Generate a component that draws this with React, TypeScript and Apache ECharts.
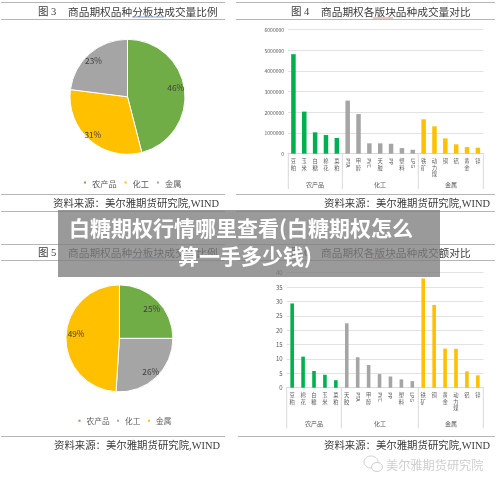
import React, { useEffect, useRef } from "react";
import * as echarts from "echarts";

const GREEN = "#00B050";
const GRAY = "#A5A5A5";
const YELLOW = "#FFC000";
const PIE_GREEN = "#70AD47";
const CN = '"Liberation Serif","Noto Sans CJK SC",serif';
const SANS = '"Noto Sans CJK SC",sans-serif';

const groupNames = ["农产品", "化工", "金属"];

const volCatsAgri = ["豆粕", "玉米", "白糖", "棉花", "菜粕"];
const volCatsChem = ["PTA", "甲醇", "PVC", "天胶", "PP", "塑料", "LPG"];
const volCatsMetal = ["铁矿", "动力煤", "铜", "铝", "黄金", "锌"];
const volAgri = [4800000, 2030000, 1030000, 900000, 760000];
const volChem = [2560000, 1910000, 500000, 500000, 480000, 270000, 190000];
const volMetal = [1660000, 1320000, 740000, 450000, 320000, 290000];

const amtCatsAgri = ["豆粕", "棉花", "白糖", "玉米", "菜粕"];
const amtCatsChem = ["天胶", "PTA", "甲醇", "PVC", "PP", "塑料", "LPG"];
const amtCatsMetal = ["铁矿", "铜", "黄金", "动力煤", "铝", "锌"];
const amtAgri = [29.3, 10.8, 5.8, 4.5, 2.6];
const amtChem = [22.4, 10.6, 7.9, 4.75, 3.9, 2.9, 2.3];
const amtMetal = [38, 28.8, 13.6, 13.5, 5.7, 4.3];

const pieVolume = [46, 31, 23];
const pieAmount = [25, 26, 49];

const isLatin = (s: string) => /^[A-Z]+$/.test(s);
const stacked = (s: string) => (isLatin(s) ? "" : s.split("").join("\n"));
const latinOnly = (s: string) => (isLatin(s) ? s : "");

function barData(a: number[], b: number[], c: number[]) {
  return [
    ...a.map((value) => ({ value, itemStyle: { color: GREEN } })),
    ...b.map((value) => ({ value, itemStyle: { color: GRAY } })),
    ...c.map((value) => ({ value, itemStyle: { color: YELLOW } })),
  ];
}

function txt(text: string, x: number, y: number, size: number, fill: string, align = "left", family = SANS, weight: any = "normal", z = 10) {
  return {
    type: "text",
    x,
    y,
    z,
    style: { text, fill, fontSize: size, fontFamily: family, fontWeight: weight, align, verticalAlign: "middle", textAlign: align, textVerticalAlign: "middle" },
  };
}
function ln(x1: number, y1: number, x2: number, y2: number, stroke: string, lineWidth = 1, z = 10) {
  return { type: "line", z, shape: { x1, y1, x2, y2 }, style: { stroke, lineWidth } };
}

const RULE = "#B5B5B5";
const AXIS = "#D9D9D9";
const TITLE = "#3a3a3a";

function buildOption() {
  const g1 = { left: 288, width: 195.3, top: 29.3, height: 124.4 };
  const g2 = { left: 286.7, width: 196.6, top: 272.7, height: 115 };
  const cats1 = [...volCatsAgri, ...volCatsChem, ...volCatsMetal];
  const cats2 = [...amtCatsAgri, ...amtCatsChem, ...amtCatsMetal];

  const xBase = (gridIndex: number, data: string[], rotate: number) => ({
    type: "category",
    gridIndex,
    position: "bottom",
    data,
    axisTick: { show: false },
    axisLine: { show: true, lineStyle: { color: AXIS, width: 1 } },
    splitLine: { show: false },
    axisLabel: { interval: 0, rotate, fontSize: 5.3, lineHeight: 6.5, color: "#595959", fontFamily: SANS, margin: 4.5, hideOverlap: false },
  });
  const yBase = (gridIndex: number, max: number, interval: number, fontSize: number) => ({
    type: "value",
    gridIndex,
    min: 0,
    max,
    interval,
    axisLine: { show: false },
    axisTick: { show: false },
    splitLine: { show: true, lineStyle: { color: "#E2E2E2", width: 1 } },
    axisLabel: { fontSize, color: "#595959", fontFamily: SANS, margin: 4, formatter: (v: number) => String(v) },
  });

  const pieLabel = { show: true, position: "inside", formatter: "{c}%", fontSize: 8.3, color: "#404040", fontFamily: SANS };
  const pieCommon = { type: "pie", startAngle: 90, clockwise: true, label: pieLabel, labelLine: { show: false }, itemStyle: { borderColor: "#fff", borderWidth: 1 }, silent: true };

  const legendCommon = { icon: "rect", itemWidth: 4, itemHeight: 4, orient: "horizontal", padding: 0, selectedMode: false };

  const boundaries = (xs: number[], y1: number, y2: number) => xs.map((x) => ln(x, y1, x, y2, AXIS));

  const graphicElements: any[] = [
    // rules
    ln(1, 2.5, 225, 2.5, RULE), ln(1, 19.5, 225, 19.5, RULE), ln(1, 194.5, 225, 194.5, RULE), ln(1, 211.5, 225, 211.5, RULE),
    ln(236, 2.5, 495, 2.5, RULE), ln(236, 19.5, 495, 19.5, RULE), ln(236, 194.5, 495, 194.5, RULE), ln(236, 211.5, 495, 211.5, RULE),
    ln(1, 244.5, 225, 244.5, RULE), ln(1, 260.5, 225, 260.5, RULE), ln(1, 436.5, 225, 436.5, RULE),
    ln(238, 244.5, 495, 244.5, RULE), ln(238, 260.5, 495, 260.5, RULE), ln(238, 436.5, 495, 436.5, RULE),
    // titles
    txt("图 3", 38, 11.5, 10.5, TITLE, "left", CN),
    txt("商品期权品种分板块成交量比例", 68, 11.5, 10.7, TITLE, "left", CN),
    txt("图 4", 291, 11.5, 10.5, TITLE, "left", CN),
    txt("商品期权各版块品种成交量对比", 321, 11.5, 10.7, TITLE, "left", CN),
    txt("图 5", 38, 252.5, 10.5, TITLE, "left", CN),
    txt("商品期权品种分板块成交额比例", 68, 252.5, 10.7, TITLE, "left", CN),
    txt("图 6", 291, 252.5, 10.5, TITLE, "left", CN),
    txt("商品期权各版块品种成交额对比", 321, 252.5, 10.7, TITLE, "left", CN),
    // spell-check marks under the titles
    ln(132, 17, 164, 17, "#8FA3D6"), ln(373, 18, 393, 18, "#E08A8A"),
    ln(132, 258, 165, 258, "#8FA3D6"), ln(373, 258.5, 393, 258.5, "#E08A8A"),
    // sources
    txt("资料来源：美尔雅期货研究院,WIND", 53, 203.5, 10.4, TITLE, "left", CN),
    txt("资料来源：美尔雅期货研究院,WIND", 324, 203.5, 10.4, TITLE, "left", CN),
    txt("资料来源：美尔雅期货研究院,WIND", 54, 445, 10.4, TITLE, "left", CN),
    txt("资料来源：美尔雅期货研究院,WIND", 324, 445, 10.4, TITLE, "left", CN),
    // group separators and names
    ...boundaries([288.3, 342.3, 418.3, 483.3], 154, 189),
    ...boundaries([286.7, 341.3, 418.3, 483.3], 388, 428.3),
    txt(groupNames[0], 315, 184, 6, "#595959", "center"),
    txt(groupNames[1], 380, 184, 6, "#595959", "center"),
    txt(groupNames[2], 451, 184, 6, "#595959", "center"),
    txt(groupNames[0], 314, 423, 6, "#595959", "center"),
    txt(groupNames[1], 380, 423, 6, "#595959", "center"),
    txt(groupNames[2], 451, 423, 6, "#595959", "center"),
    // watermark
    { type: "ellipse", z: 10, shape: { cx: 371, cy: 462, rx: 7, ry: 6 }, style: { fill: "#fff", stroke: "#CFCFCF", lineWidth: 1 } },
    { type: "ellipse", z: 10, shape: { cx: 377, cy: 467, rx: 5.5, ry: 4.5 }, style: { fill: "#fff", stroke: "#CFCFCF", lineWidth: 1 } },
    txt("美尔雅期货研究院", 386, 465, 12.2, "#CFCFCF"),
    // banner
    { type: "rect", z: 100, shape: { x: 58, y: 210, width: 382, height: 67 }, style: { fill: "rgba(125,125,125,0.78)" } },
    txt("白糖期权行情哪里查看(白糖期权怎么", 69, 226.5, 21, "#fff", "left", SANS, "bold", 101),
    txt("算一手多少钱)", 178, 254.5, 21, "#fff", "left", SANS, "bold", 101),
  ];

  return {
    animation: false,
    backgroundColor: "#fff",
    grid: [
      { ...g1, containLabel: false },
      { ...g2, containLabel: false },
    ],
    xAxis: [
      xBase(0, cats1.map(stacked), 0),
      xBase(0, cats1.map(latinOnly), -90),
      xBase(1, cats2.map(stacked), 0),
      xBase(1, cats2.map(latinOnly), -90),
    ],
    yAxis: [yBase(0, 6000000, 1000000, 5), yBase(1, 40, 5, 6)],
    legend: [
      {
        ...legendCommon,
        left: 82,
        top: 178.5,
        itemGap: 6,
        textStyle: { fontSize: 8.2, color: "#595959", fontFamily: SANS },
        data: [
          { name: groupNames[0], itemStyle: { color: PIE_GREEN } },
          { name: groupNames[1], itemStyle: { color: YELLOW } },
          { name: groupNames[2], itemStyle: { color: GRAY } },
        ],
      },
      {
        ...legendCommon,
        left: 76.5,
        top: 417,
        itemGap: 5.5,
        textStyle: { fontSize: 7.7, color: "#595959", fontFamily: SANS },
        data: [
          { name: groupNames[0], itemStyle: { color: PIE_GREEN } },
          { name: groupNames[1], itemStyle: { color: GRAY } },
          { name: groupNames[2], itemStyle: { color: YELLOW } },
        ],
      },
    ],
    series: [
      {
        ...pieCommon,
        center: [127.5, 96.8],
        radius: [0, 57.5],
        data: [
          { name: groupNames[0], value: pieVolume[0], itemStyle: { color: PIE_GREEN }, label: { offset: [16.7, -5.4] } },
          { name: groupNames[1], value: pieVolume[1], itemStyle: { color: YELLOW }, label: { offset: [-13.7, 13.6] } },
          { name: groupNames[2], value: pieVolume[2], itemStyle: { color: GRAY }, label: { offset: [-13, -13] } },
        ],
      },
      {
        ...pieCommon,
        center: [119.4, 338.4],
        radius: [0, 53.5],
        data: [
          { name: groupNames[0], value: pieAmount[0], itemStyle: { color: PIE_GREEN }, label: { offset: [11.3, -9.7] } },
          { name: groupNames[1], value: pieAmount[1], itemStyle: { color: GRAY }, label: { offset: [11, 11] } },
          { name: groupNames[2], value: pieAmount[2], itemStyle: { color: YELLOW }, label: { offset: [-13.6, -4.8] } },
        ],
      },
      { type: "bar", xAxisIndex: 0, yAxisIndex: 0, barWidth: 4.5, data: barData(volAgri, volChem, volMetal), silent: true },
      { type: "bar", xAxisIndex: 2, yAxisIndex: 1, barWidth: 3.6, data: barData(amtAgri, amtChem, amtMetal), silent: true },
    ],
    graphic: { elements: graphicElements },
  };
}

export default function App() {
  const ref = useRef<HTMLDivElement>(null);
  useEffect(() => {
    if (!ref.current) return;
    const chart = echarts.init(ref.current, undefined, { renderer: "svg" });
    chart.setOption(buildOption() as any);
    return () => chart.dispose();
  }, []);
  return (
    <div
      ref={ref}
      style={{ position: "absolute", left: 0, top: 0, width: 500, height: 487, background: "#fff", filter: "blur(0.35px)" }}
    />
  );
}
